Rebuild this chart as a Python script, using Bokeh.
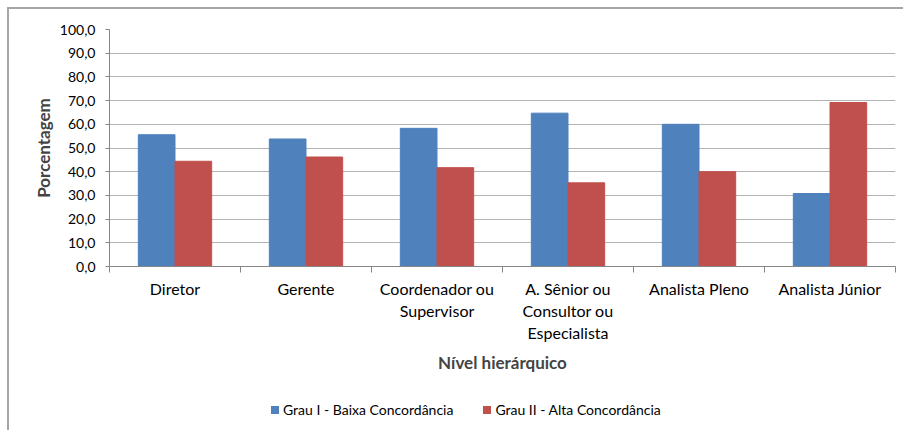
from bokeh.plotting import figure
from bokeh.layouts import column
from bokeh.models import ColumnDataSource, FixedTicker, Range1d, Div
from bokeh.transform import dodge
from bokeh.embed import file_html
from bokeh.resources import INLINE

categories = ["Diretor", "Gerente", "Coordenador ou\nSupervisor",
              "A. Sênior ou\nConsultor ou\nEspecialista", "Analista Pleno", "Analista Júnior"]
grau_i = [55.6, 53.8, 58.3, 64.7, 60.0, 30.8]
grau_ii = [44.4, 46.2, 41.7, 35.3, 40.0, 69.2]
y_ticks = [0, 10, 20, 30, 40, 50, 60, 70, 80, 90, 100]
series_names = ["Grau I - Baixa Concordância", "Grau II - Alta Concordância"]
colors = ["#4F81BD", "#C0504D"]

pos = [i + 0.5 for i in range(len(categories))]
source = ColumnDataSource(dict(x=pos, g1=grau_i, g2=grau_ii))

FONT = "Lato"

p = figure(width=893, height=386, output_backend="svg", toolbar_location=None,
           x_range=Range1d(0, len(categories)), y_range=Range1d(0, 100),
           min_border_left=100, min_border_top=20, min_border_right=7,
           min_border_bottom=129)
p.outline_line_color = None
p.background_fill_color = "white"
p.border_fill_color = "white"

r1 = p.vbar(x=dodge("x", -0.14, range=p.x_range), top="g1", width=0.28, source=source,
            fill_color=colors[0], line_color=colors[0])
r2 = p.vbar(x=dodge("x", 0.14, range=p.x_range), top="g2", width=0.28, source=source,
            fill_color=colors[1], line_color=colors[1])

# x axis: labels at category centers, tick marks at boundaries
xa = p.xaxis[0]
xa.ticker = FixedTicker(ticks=pos, minor_ticks=list(range(len(categories) + 1)))
xa.major_label_overrides = {pos[i]: categories[i] for i in range(len(categories))}
xa.major_tick_line_color = None
xa.minor_tick_line_color = "#868686"
xa.minor_tick_out = 6
xa.minor_tick_in = 0
xa.axis_line_color = "#868686"
xa.major_label_text_font = FONT
xa.major_label_text_font_size = "16px"
xa.major_label_text_color = "black"
xa.major_label_text_line_height = 1.16
xa.major_label_standoff = 6
xa.axis_label = "Nível hierárquico"
xa.axis_label_text_font = FONT
xa.axis_label_text_font_style = "bold"
xa.axis_label_text_font_size = "17px"
xa.axis_label_standoff = 7

ya = p.yaxis[0]
ya.ticker = FixedTicker(ticks=y_ticks)
ya.major_label_overrides = {t: f"{t:.1f}".replace(".", ",") for t in y_ticks}
ya.axis_line_color = "#868686"
ya.major_tick_line_color = "#868686"
ya.major_tick_out = 4
ya.major_tick_in = 0
ya.minor_tick_line_color = None
ya.major_label_text_font = FONT
ya.major_label_text_font_size = "14px"
ya.major_label_text_color = "black"
ya.major_label_standoff = 10
ya.axis_label = "Porcentagem"
ya.axis_label_text_font = FONT
ya.axis_label_text_font_style = "bold"
ya.axis_label_text_font_size = "17px"
ya.axis_label_standoff = 3

p.xgrid.grid_line_color = None
p.ygrid.grid_line_color = "#b3b3b3"
p.ygrid.grid_line_width = 1

items_html = "".join(
    f'<span style="display:inline-flex;align-items:center;margin-right:30px;">'
    f'<span style="display:inline-block;width:8px;height:8px;background:{c};margin-right:4px;"></span>'
    f'{name}</span>'
    for name, c in zip(series_names, colors)
)
legend_div = Div(
    text=f'<div style="font-family:Lato;font-size:14px;color:#000;display:flex;'
         f'align-items:center;margin-left:257px;margin-top:0px;white-space:nowrap;">{items_html}</div>',
    width=893, height=34)

layout = column(p, legend_div, spacing=0)
layout.styles = {"margin-left": "7px", "margin-top": "7px",
                 "border-left": "2px solid #a6a6a6", "border-top": "2px solid #a6a6a6"}

open("out.html", "w").write(file_html(layout, INLINE))
